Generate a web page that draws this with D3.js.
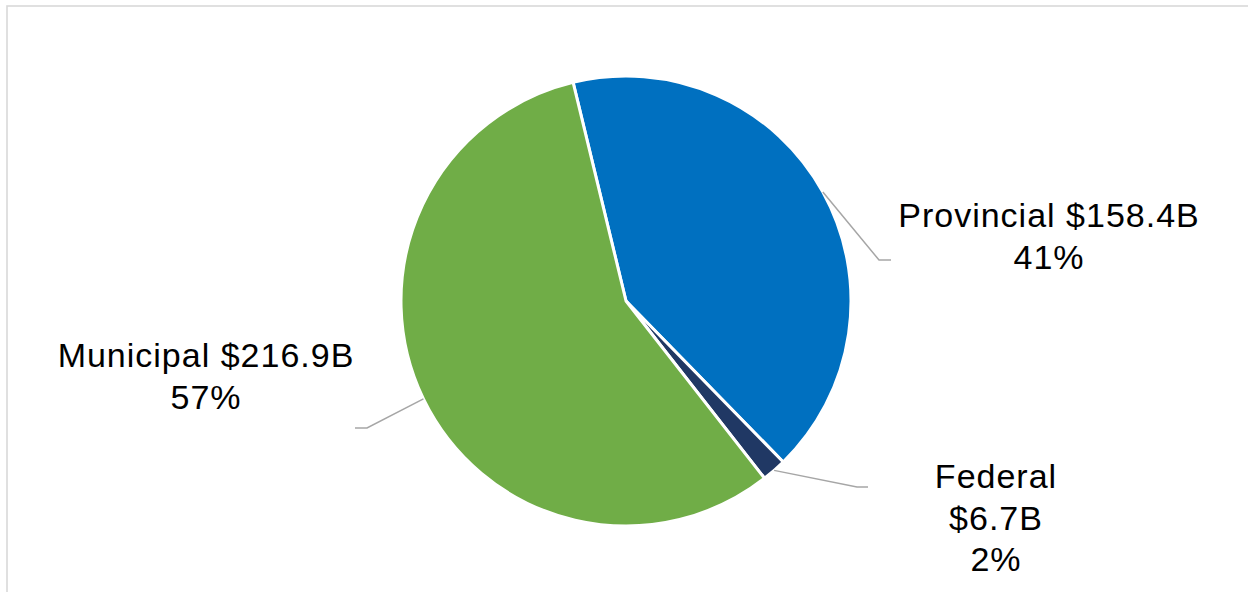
<!DOCTYPE html>
<html>
<head>
<meta charset="utf-8">
<script src="https://cdn.jsdelivr.net/npm/d3@7"></script>
<style>
  html, body { margin: 0; padding: 0; background: #ffffff; }
  svg { display: block; }
  text { font-family: "Liberation Sans", Arial, sans-serif; fill: #000; }
</style>
</head>
<body>
<svg id="chart" width="1248" height="592"></svg>
<script>
// ---- data ----
const categories = ["Provincial", "Federal", "Municipal"];
const amounts = [158.4, 6.7, 216.9];           // $ billions
const amountLabels = ["$158.4B", "$6.7B", "$216.9B"];
const percentLabels = ["41%", "2%", "57%"];
const colors = ["#0070c0", "#203864", "#70ad47"];

// ---- layout ----
const W = 1248, H = 592;
const cx = 626, cy = 301, R = 225;
const startDeg = -13.6;

const svg = d3.select("#chart");

// outer frame
svg.append("rect")
  .attr("x", 7).attr("y", 6)
  .attr("width", W + 20).attr("height", H + 20)
  .attr("fill", "none")
  .attr("stroke", "#d9d9d9")
  .attr("stroke-width", 1.6);

const data = categories.map((c, i) => ({
  name: c, value: amounts[i], amount: amountLabels[i], pct: percentLabels[i], color: colors[i]
}));

const a0 = startDeg * Math.PI / 180;
const pie = d3.pie().sort(null).value(d => d.value)
  .startAngle(a0).endAngle(a0 + 2 * Math.PI);
const arcs = pie(data);

const arc = d3.arc().innerRadius(0).outerRadius(R);

const g = svg.append("g").attr("transform", `translate(${cx},${cy})`);

g.selectAll("path.slice")
  .data(arcs)
  .join("path")
  .attr("class", "slice")
  .attr("d", arc)
  .attr("fill", d => d.data.color)
  .attr("stroke", "#ffffff")
  .attr("stroke-width", 3)
  .attr("stroke-linejoin", "round");

// label layout (relative to pie centre): elbow point, line end, text centre, first baseline
const labelLayout = {
  Provincial: { elbow: [253, -41], end: [265, -41], tx: 423, ty: -74, lines: d => [d.name + " " + d.amount, d.pct] },
  Federal:    { elbow: [231, 186], end: [242, 186], tx: 370, ty: 187, lines: d => [d.name, d.amount, d.pct] },
  Municipal:  { elbow: [-259, 127], end: [-271, 127], tx: -420, ty: 66, lines: d => [d.name + " " + d.amount, d.pct] }
};

const lineH = 41.5;

arcs.forEach(d => {
  const L = labelLayout[d.data.name];
  const mid = (d.startAngle + d.endAngle) / 2;
  const p0 = [R * Math.sin(mid), -R * Math.cos(mid)];
  g.append("polyline")
    .attr("points", [p0, L.elbow, L.end].map(p => p.join(",")).join(" "))
    .attr("fill", "none")
    .attr("stroke", "#a6a6a6")
    .attr("stroke-width", 1.5);

  const t = g.append("text")
    .attr("text-anchor", "middle")
    .attr("font-size", 34)
    .attr("letter-spacing", 1);
  L.lines(d.data).forEach((s, i) => {
    t.append("tspan")
      .attr("x", L.tx)
      .attr("y", L.ty + i * lineH)
      .text(s);
  });
});
</script>
</body>
</html>
